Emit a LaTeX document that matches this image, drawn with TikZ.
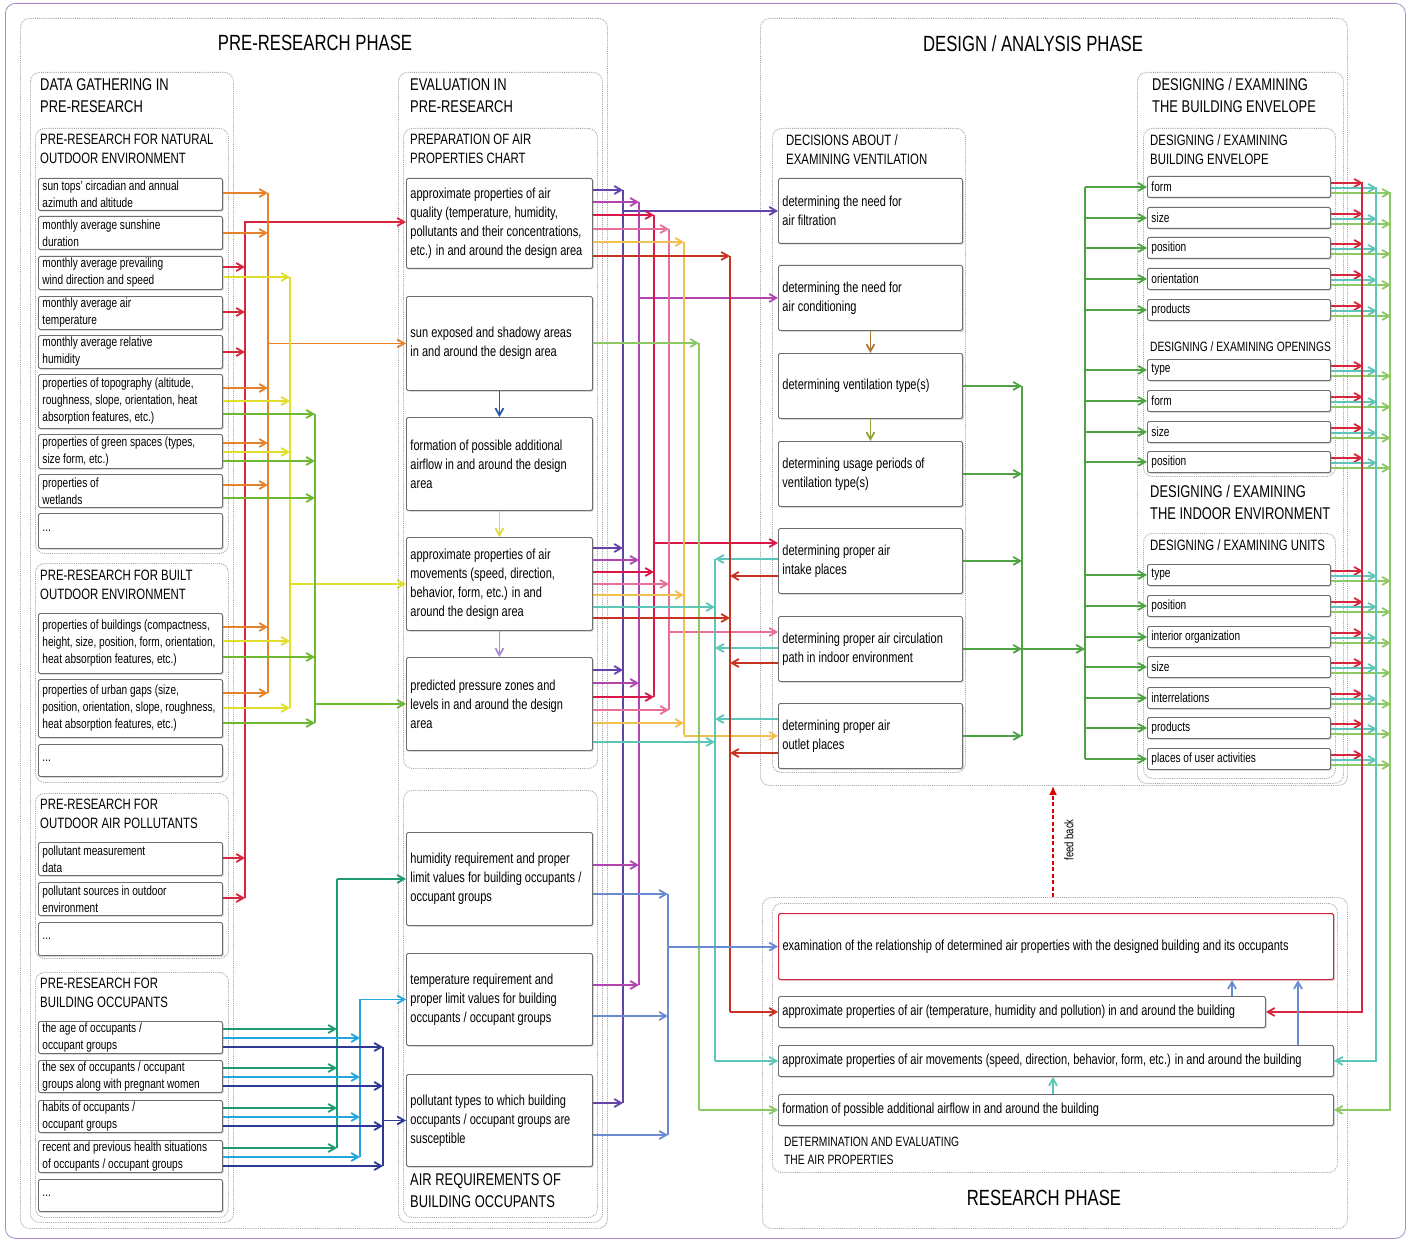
\documentclass[tikz,border=0pt]{standalone}
\usepackage{fontspec}
\setmainfont{Liberation Sans}[FakeStretch=0.76]
\usetikzlibrary{arrows.meta,shadows}

\definecolor{cRed}{HTML}{D7263D}
\definecolor{cOrange}{HTML}{E8822A}
\definecolor{cYellow}{HTML}{E0DE2A}
\definecolor{cLime}{HTML}{6DB82E}
\definecolor{cSea}{HTML}{1E9A70}
\definecolor{cSky}{HTML}{23A6DE}
\definecolor{cNavy}{HTML}{2E3A92}
\definecolor{cPurple}{HTML}{6244A8}
\definecolor{cViolet}{HTML}{B045B0}
\definecolor{cCrimson}{HTML}{D81848}
\definecolor{cPink}{HTML}{E87098}
\definecolor{cGold}{HTML}{F0C050}
\definecolor{cLeaf}{HTML}{8CC864}
\definecolor{cTeal}{HTML}{5CC6B8}
\definecolor{cBrick}{HTML}{C83222}
\definecolor{cBlue}{HTML}{6A8AD2}
\definecolor{cGreen}{HTML}{4EA444}
\definecolor{cFrame}{HTML}{A58BC8}
\definecolor{cEdge}{HTML}{6E6E6E}
\definecolor{cBrown}{HTML}{B07838}
\definecolor{cOlive}{HTML}{8FA834}
\definecolor{cRoyal}{HTML}{2456B0}
\definecolor{cLav}{HTML}{A88AD6}

\newcommand\fPhase{\fontsize{22}{26}\selectfont}
\newcommand\fCont{\fontsize{17}{22}\selectfont}
\newcommand\fSub{\fontsize{15}{19}\selectfont}
\newcommand\fMinor{\fontsize{13.5}{18}\selectfont}
\newcommand\fTiny{\fontsize{13.5}{18}\selectfont}
\newcommand\fLabel{\fontsize{12.5}{16}\selectfont}
\newcommand\fItem{\fontsize{13.3}{17}\selectfont}
\newcommand\fEval{\fontsize{14.5}{19}\selectfont}

% item box: [options]{name}{x}{y}{width}{height}{text}
\newcommand\mkbox[7][]{%
  \pgfmathsetlengthmacro\boxtw{#5pt-8pt}%
  \node[itembox,minimum width=#5pt,minimum height=#6pt,text width=\boxtw,#1] (#2) at (#3,#4) {#7};}
% dotted group frame: {name}{x}{y}{width}{height}
\newcommand\mkcont[5]{\node[cont,minimum width=#4pt,minimum height=#5pt] (#1) at (#2,#3) {};}
% feeder lines into a vertical bus
\newcommand\toR[4]{\draw[wire,#1,arrowed] (#2.east |- 0,#3) -- (#4 |- 0,#3);}
\newcommand\toL[4]{\draw[wire,#1,arrowed] (#2.west |- 0,#3) -- (#4 |- 0,#3);}
\newcommand\busline[4]{\draw[wire,#1] (#2 |- 0,#3) -- (#2 |- 0,#4);}

\begin{document}
\hyphenpenalty=10000 \exhyphenpenalty=10000
\begin{tikzpicture}[x=1pt,y=-1pt,
  cont/.style={draw=gray!70, densely dotted, line width=0.9pt, rounded corners=9pt, anchor=north west, inner sep=0pt},
  itembox/.style={draw=cEdge, line width=0.9pt, fill=white, rounded corners=1.5pt, anchor=north west,
    inner xsep=4pt, inner ysep=1pt, align=flush left, font=\fItem,
    drop shadow={shadow xshift=1.3pt, shadow yshift=-1.3pt, fill=black!30}},
  ttl/.style={anchor=north west, inner sep=0pt, align=left, font=\fCont},
  wire/.style={line width=1.8pt},
  arrowed/.style={-{Straight Barb[length=7pt,width=8pt]}},
  feedbk/.style={draw=red!85!black, line width=1.8pt, dash pattern=on 4pt off 2.5pt, -{Latex[length=9pt,width=8pt]}}
]
\useasboundingbox (0,0) rectangle (1410,1241);
\fill[white] (0,0) rectangle (1410,1241);
\node[draw=cFrame, line width=0.8pt, rounded corners=10pt, minimum width=1400pt, minimum height=1235pt, anchor=north west, inner sep=0pt] (frame) at (5,3) {};

% ---------- group frames ----------
\mkcont{prephase}{20}{18}{587}{1210}
\mkcont{gather}{30}{72}{203}{1150}
\mkcont{gNat}{35}{128}{193}{425}
\mkcont{gBuilt}{35}{563}{193}{219}
\mkcont{gPoll}{35}{793}{193}{165}
\mkcont{gOcc}{35}{972}{193}{245}
\mkcont{evalg}{398}{72}{204}{1150}
\mkcont{gChart}{403}{128}{194}{640}
\mkcont{gReq}{403}{790}{194}{427}
\mkcont{dphase}{760}{18}{587}{767}
\mkcont{gVent}{772}{128}{193}{644}
\mkcont{gEnvAll}{1137}{72}{206}{711}
\mkcont{gEnv}{1143}{128}{192}{348}
\mkcont{gUnits}{1143}{533}{192}{245}
\mkcont{rphase}{762}{897}{585}{331}
\mkcont{gDet}{772}{903}{565}{269}

% ---------- titles ----------
\node[font=\fPhase, anchor=north, inner sep=0pt] (tPre) at (315,35) {PRE-RESEARCH PHASE};
\node[font=\fPhase, anchor=north, inner sep=0pt] (tDes) at (1033,35) {DESIGN / ANALYSIS PHASE};
\node[font=\fPhase, anchor=north, inner sep=0pt] (tRes) at (1044,1190) {RESEARCH PHASE};
\node[ttl] (tData) at (40,78) {DATA GATHERING IN\\PRE-RESEARCH};
\node[ttl,font=\fSub] (tNat) at (40,134) {PRE-RESEARCH FOR NATURAL\\OUTDOOR ENVIRONMENT};
\node[ttl,font=\fSub] (tBuilt) at (40,570) {PRE-RESEARCH FOR BUILT\\OUTDOOR ENVIRONMENT};
\node[ttl,font=\fSub] (tPoll) at (40,799) {PRE-RESEARCH FOR\\OUTDOOR AIR POLLUTANTS};
\node[ttl,font=\fSub] (tOcc) at (40,978) {PRE-RESEARCH FOR\\BUILDING OCCUPANTS};
\node[ttl] (tEval) at (410,78) {EVALUATION IN\\PRE-RESEARCH};
\node[ttl,font=\fSub] (tChart) at (410,134) {PREPARATION OF AIR\\PROPERTIES CHART};
\node[ttl] (tReq) at (410,1173) {AIR REQUIREMENTS OF\\BUILDING OCCUPANTS};
\node[ttl,font=\fSub] (tVent) at (786,134) {DECISIONS ABOUT /\\EXAMINING VENTILATION};
\node[ttl] (tEnv) at (1152,78) {DESIGNING / EXAMINING\\THE BUILDING ENVELOPE};
\node[ttl,font=\fSub] (tEnvSub) at (1150,134) {DESIGNING / EXAMINING\\BUILDING ENVELOPE};
\node[ttl,font=\fMinor] (tOpen) at (1150,342) {DESIGNING / EXAMINING OPENINGS};
\node[ttl] (tIndoor) at (1150,485) {DESIGNING / EXAMINING\\THE INDOOR ENVIRONMENT};
\node[ttl,font=\fSub] (tUnits) at (1150,539) {DESIGNING / EXAMINING UNITS};
\node[ttl,font=\fTiny] (tDet) at (784,1137) {DETERMINATION AND EVALUATING\\THE AIR PROPERTIES};

% ---------- data gathering items ----------
\mkbox{sun}{38}{178}{184}{32}{sun tops' circadian and annual\\azimuth and altitude}
\mkbox{sunsh}{38}{216}{184}{33}{monthly average sunshine\\duration}
\mkbox{wind}{38}{256}{184}{33}{monthly average prevailing\\wind direction and speed}
\mkbox{temp}{38}{296}{184}{33}{monthly average air\\temperature}
\mkbox{humid}{38}{335}{184}{33}{monthly average relative\\humidity}
\mkbox{topo}{38}{374}{184}{54}{properties of topography (altitude,\\roughness, slope, orientation, heat\\absorption features, etc.)}
\mkbox{green}{38}{434}{184}{34}{properties of green spaces (types,\\size form, etc.)}
\mkbox{wet}{38}{474}{184}{33}{properties of\\wetlands}
\mkbox{dotsA}{38}{513}{184}{35}{...}
\mkbox{bldg}{38}{613}{184}{60}{properties of buildings (compactness,\\height, size, position, form, orientation,\\heat absorption features, etc.)}
\mkbox{gaps}{38}{679}{184}{58}{properties of urban gaps (size,\\position, orientation, slope, roughness,\\heat absorption features, etc.)}
\mkbox{dotsB}{38}{744}{184}{32}{...}
\mkbox{pmeas}{38}{842}{184}{33}{pollutant measurement\\data}
\mkbox{psrc}{38}{882}{184}{33}{pollutant sources in outdoor\\environment}
\mkbox{dotsC}{38}{922}{184}{33}{...}
\mkbox{age}{38}{1021}{184}{32}{the age of occupants /\\occupant groups}
\mkbox{sex}{38}{1060}{184}{32}{the sex of occupants / occupant\\groups along with pregnant women}
\mkbox{habits}{38}{1100}{184}{32}{habits of occupants /\\occupant groups}
\mkbox{health}{38}{1140}{184}{32}{recent and previous health situations\\of occupants / occupant groups}
\mkbox{dotsD}{38}{1179}{184}{32}{...}

% ---------- evaluation items ----------
\mkbox[font=\fEval]{E1}{406}{178}{186}{90}{approximate properties of air\\quality (temperature, humidity,\\pollutants and their concentrations,\\etc.) in and around the design area}
\mkbox[font=\fEval]{E2}{406}{296}{186}{94}{sun exposed and shadowy areas\\in and around the design area}
\mkbox[font=\fEval]{E3}{406}{417}{186}{93}{formation of possible additional\\airflow in and around the design\\area}
\mkbox[font=\fEval]{E4}{406}{537}{186}{93}{approximate properties of air\\movements (speed, direction,\\behavior, form, etc.) in and\\around the design area}
\mkbox[font=\fEval]{E5}{406}{657}{186}{93}{predicted pressure zones and\\levels in and around the design\\area}
\mkbox[font=\fEval]{R1}{406}{832}{186}{93}{humidity requirement and proper\\limit values for building occupants /\\occupant groups}
\mkbox[font=\fEval]{R2}{406}{953}{186}{92}{temperature requirement and\\proper limit values for building\\occupants / occupant groups}
\mkbox[font=\fEval]{R3}{406}{1074}{186}{92}{pollutant types to which building\\occupants / occupant groups are\\susceptible}

% ---------- ventilation items ----------
\mkbox[font=\fEval]{V1}{778}{178}{184}{65}{determining the need for\\air filtration}
\mkbox[font=\fEval]{V2}{778}{265}{184}{65}{determining the need for\\air conditioning}
\mkbox[font=\fEval]{V3}{778}{353}{184}{65}{determining ventilation type(s)}
\mkbox[font=\fEval]{V4}{778}{441}{184}{65}{determining usage periods of\\ventilation type(s)}
\mkbox[font=\fEval]{V5}{778}{528}{184}{65}{determining proper air\\intake places}
\mkbox[font=\fEval]{V6}{778}{616}{184}{65}{determining proper air circulation\\path in indoor environment}
\mkbox[font=\fEval]{V7}{778}{703}{184}{65}{determining proper air\\outlet places}

% ---------- envelope / openings / units items ----------
\mkbox{fform}{1147}{176}{183}{21}{form}
\mkbox{fsize}{1147}{207}{183}{21}{size}
\mkbox{fpos}{1147}{237}{183}{21}{position}
\mkbox{fori}{1147}{268}{183}{21}{orientation}
\mkbox{fprod}{1147}{299}{183}{21}{products}
\mkbox{otype}{1147}{359}{183}{21}{type}
\mkbox{oform}{1147}{390}{183}{21}{form}
\mkbox{osize}{1147}{421}{183}{21}{size}
\mkbox{opos}{1147}{451}{183}{21}{position}
\mkbox{utype}{1147}{564}{183}{21}{type}
\mkbox{upos}{1147}{595}{183}{21}{position}
\mkbox{uint}{1147}{626}{183}{21}{interior organization}
\mkbox{usize}{1147}{656}{183}{21}{size}
\mkbox{urel}{1147}{687}{183}{21}{interrelations}
\mkbox{uprod}{1147}{717}{183}{21}{products}
\mkbox{uact}{1147}{748}{183}{21}{places of user activities}

% ---------- research phase items ----------
\mkbox[font=\fEval,draw=cRed,line width=1.2pt]{X1}{778}{913}{555}{66}{examination of the relationship of  determined air properties with the designed building and its occupants}
\mkbox[font=\fEval]{X2}{778}{996}{487}{31}{approximate properties of air (temperature, humidity and pollution) in and around the building}
\mkbox[font=\fEval]{X3}{778}{1045}{555}{31}{approximate properties of air movements (speed, direction, behavior, form, etc.) in and around the building}
\mkbox[font=\fEval]{X4}{778}{1094}{555}{31}{formation of possible additional airflow in and around the building}

% ---------- bus positions ----------
\coordinate (bR) at (245,0);  \coordinate (bO) at (268,0);
\coordinate (bY) at (290,0);  \coordinate (bL) at (315,0);
\coordinate (bS) at (337,0);  \coordinate (bK) at (360,0);
\coordinate (bN) at (383,0);
\coordinate (bP) at (623,0);  \coordinate (bV) at (639,0);
\coordinate (bC) at (654,0);  \coordinate (bPk) at (669,0);
\coordinate (bBl) at (668,0); \coordinate (bG) at (684,0);
\coordinate (bLf) at (699,0); \coordinate (bT) at (715,0);
\coordinate (bB) at (730,0);
\coordinate (bGa) at (1022,0); \coordinate (bGb) at (1085,0);
\coordinate (bRr) at (1362,0); \coordinate (bTr) at (1376,0);
\coordinate (bGr) at (1390,0);
\coordinate (kA) at (1232,0);  \coordinate (kB) at (1298,0);
\coordinate (fbx) at (1053,0);

% ---------- data gathering -> evaluation ----------
\toR{cRed}{wind}{267}{bR} \toR{cRed}{temp}{312}{bR} \toR{cRed}{humid}{352}{bR}
\toR{cRed}{pmeas}{858}{bR} \toR{cRed}{psrc}{898}{bR}
\draw[wire,cRed,arrowed] (bR |- 0,898) -- (bR |- 0,222) -- (E1.west |- 0,222);

\toR{cOrange}{sun}{193}{bO} \toR{cOrange}{sunsh}{233}{bO} \toR{cOrange}{topo}{388}{bO}
\toR{cOrange}{green}{443}{bO} \toR{cOrange}{wet}{485}{bO} \toR{cOrange}{bldg}{627}{bO}
\toR{cOrange}{gaps}{693}{bO}
\busline{cOrange}{bO}{193}{693}
\draw[wire,cOrange,arrowed] (bO |- E2.west) -- (E2.west);

\toR{cYellow}{wind}{277}{bY} \toR{cYellow}{topo}{401}{bY} \toR{cYellow}{green}{452}{bY}
\toR{cYellow}{bldg}{641}{bY} \toR{cYellow}{gaps}{708}{bY}
\busline{cYellow}{bY}{277}{708}
\draw[wire,cYellow,arrowed] (bY |- E4.west) -- (E4.west);

\toR{cLime}{topo}{414}{bL} \toR{cLime}{green}{461}{bL} \toR{cLime}{wet}{498}{bL}
\toR{cLime}{bldg}{657}{bL} \toR{cLime}{gaps}{723}{bL}
\busline{cLime}{bL}{414}{723}
\draw[wire,cLime,arrowed] (bL |- E5.west) -- (E5.west);

\toR{cSea}{age}{1029}{bS} \toR{cSea}{sex}{1068}{bS} \toR{cSea}{habits}{1108}{bS} \toR{cSea}{health}{1148}{bS}
\busline{cSea}{bS}{879}{1148}
\draw[wire,cSea,arrowed] (bS |- R1.west) -- (R1.west);

\toR{cSky}{age}{1038}{bK} \toR{cSky}{sex}{1077}{bK} \toR{cSky}{habits}{1117}{bK} \toR{cSky}{health}{1157}{bK}
\busline{cSky}{bK}{999}{1157}
\draw[wire,cSky,arrowed] (bK |- R2.west) -- (R2.west);

\toR{cNavy}{age}{1047}{bN} \toR{cNavy}{sex}{1086}{bN} \toR{cNavy}{habits}{1126}{bN} \toR{cNavy}{health}{1166}{bN}
\busline{cNavy}{bN}{1047}{1166}
\draw[wire,cNavy,arrowed] (bN |- R3.west) -- (R3.west);

% ---------- chain arrows inside groups ----------
\draw[wire,cRoyal,arrowed] (E2.south) -- (E3.north);
\draw[wire,cYellow,arrowed] (E3.south) -- (E4.north);
\draw[wire,cLav,arrowed] (E4.south) -- (E5.north);
\draw[wire,cBrown,arrowed] (V2.south) -- (V3.north);
\draw[wire,cOlive,arrowed] (V3.south) -- (V4.north);

% ---------- evaluation -> ventilation / research ----------
\toR{cPurple}{E1}{190}{bP} \toR{cPurple}{E4}{548}{bP} \toR{cPurple}{E5}{670}{bP} \toR{cPurple}{R3}{1103}{bP}
\busline{cPurple}{bP}{190}{1103}
\draw[wire,cPurple,arrowed] (bP |- V1.west) -- (V1.west);

\toR{cViolet}{E1}{202}{bV} \toR{cViolet}{E4}{560}{bV} \toR{cViolet}{E5}{683}{bV}
\toR{cViolet}{R1}{865}{bV} \toR{cViolet}{R2}{985}{bV}
\busline{cViolet}{bV}{202}{985}
\draw[wire,cViolet,arrowed] (bV |- V2.west) -- (V2.west);

\toR{cCrimson}{E1}{215}{bC} \toR{cCrimson}{E4}{572}{bC} \toR{cCrimson}{E5}{697}{bC}
\busline{cCrimson}{bC}{215}{697}
\draw[wire,cCrimson,arrowed] (bC |- 0,543) -- (V5.west |- 0,543);

\toR{cPink}{E1}{229}{bPk} \toR{cPink}{E4}{584}{bPk} \toR{cPink}{E5}{710}{bPk}
\busline{cPink}{bPk}{229}{710}
\draw[wire,cPink,arrowed] (bPk |- 0,632) -- (V6.west |- 0,632);

\toR{cGold}{E1}{242}{bG} \toR{cGold}{E4}{595}{bG} \toR{cGold}{E5}{723}{bG}
\busline{cGold}{bG}{242}{735}
\draw[wire,cGold,arrowed] (bG |- V7.west) -- (V7.west);

\toR{cLeaf}{E2}{343}{bLf}
\busline{cLeaf}{bLf}{343}{1110}
\draw[wire,cLeaf,arrowed] (bLf |- X4.west) -- (X4.west);

\toR{cTeal}{E4}{607}{bT} \toR{cTeal}{E5}{742}{bT}
\toL{cTeal}{V5}{559}{bT} \toL{cTeal}{V6}{648}{bT} \toL{cTeal}{V7}{719}{bT}
\busline{cTeal}{bT}{559}{1061}
\draw[wire,cTeal,arrowed] (bT |- X3.west) -- (X3.west);

\toR{cBrick}{E1}{256}{bB} \toR{cBrick}{E4}{618}{bB}
\toL{cBrick}{V5}{576}{bB} \toL{cBrick}{V6}{663}{bB} \toL{cBrick}{V7}{753}{bB}
\busline{cBrick}{bB}{256}{1012}
\draw[wire,cBrick,arrowed] (bB |- X2.west) -- (X2.west);

\toR{cBlue}{R1}{894}{bBl} \toR{cBlue}{R2}{1016}{bBl} \toR{cBlue}{R3}{1135}{bBl}
\busline{cBlue}{bBl}{894}{1135}
\draw[wire,cBlue,arrowed] (bBl |- X1.west) -- (X1.west);

% ---------- ventilation -> building envelope and indoor environment ----------
\foreach \v in {V3,V4,V5,V6,V7}{\draw[wire,cGreen,arrowed] (\v.east) -- (\v.east -| bGa);}
\draw[wire,cGreen] (bGa |- V3.east) -- (bGa |- V7.east);
\draw[wire,cGreen,arrowed] (bGa |- V6.east) -- (bGb |- V6.east);
\draw[wire,cGreen] (bGb |- fform.west) -- (bGb |- uact.west);
\foreach \n in {fform,fsize,fpos,fori,fprod,otype,oform,osize,opos,utype,upos,uint,usize,urel,uprod,uact}{
  \draw[wire,cGreen,arrowed] (\n.west -| bGb) -- (\n.west);
  \draw[wire,cRed,arrowed] ([yshift=4pt]\n.east) -- ++(32,0);
  \draw[wire,cTeal,arrowed] ([yshift=-1pt]\n.east) -- ++(46,0);
  \draw[wire,cLeaf,arrowed] ([yshift=-6pt]\n.east) -- ++(60,0);
}
\draw[wire,cRed,arrowed] (bRr |- 0,182) -- (bRr |- X2.east) -- (X2.east);
\draw[wire,cTeal,arrowed] (bTr |- 0,187) -- (bTr |- X3.east) -- (X3.east);
\draw[wire,cLeaf,arrowed] (bGr |- 0,192) -- (bGr |- X4.east) -- (X4.east);

% ---------- research phase internal ----------
\draw[wire,cTeal,arrowed] (X4.north -| fbx) -- (X3.south -| fbx);
\draw[wire,cBlue,arrowed] (X2.north -| kA) -- (X1.south -| kA);
\draw[wire,cBlue,arrowed] (X3.north -| kB) -- (X1.south -| kB);

% ---------- feedback ----------
\draw[feedbk] (rphase.north -| fbx) -- (dphase.south -| fbx);
\node[rotate=90, font=\fLabel, inner sep=0pt] (fbl) at (1069,840) {feed back};
\end{tikzpicture}
\end{document}
